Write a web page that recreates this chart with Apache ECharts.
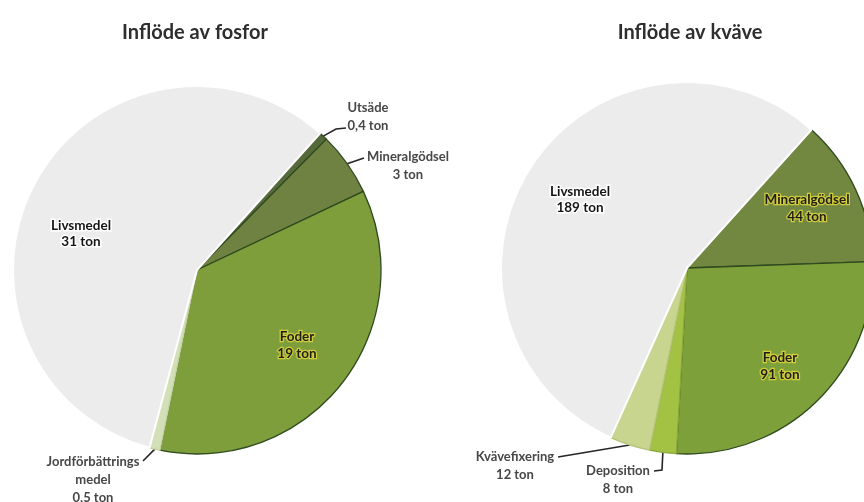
<!DOCTYPE html>
<html>
<head>
<meta charset="utf-8">
<script src="https://cdn.jsdelivr.net/npm/echarts@6/dist/echarts.min.js"></script>
<style>
  html, body { margin: 0; padding: 0; background: #ffffff; }
  #chart { width: 864px; height: 502px; }
</style>
</head>
<body>
<div id="chart"></div>
<script>
// Inflöde av fosfor (ton), clockwise from the upper right edge
const fosforCategories = ['Utsäde', 'Mineralgödsel', 'Foder', 'Jordförbättringsmedel', 'Livsmedel'];
const fosforValues = [0.4, 3, 19, 0.5, 31];

// Inflöde av kväve (ton), clockwise from the upper right edge
const kvaveCategories = ['Mineralgödsel', 'Foder', 'Deposition', 'Kvävefixering', 'Livsmedel'];
const kvaveValues = [44, 91, 8, 12, 189];

const chartTitles = ['Inflöde av fosfor', 'Inflöde av kväve'];

const FONT = 'Lato, "Open Sans", sans-serif';

// Appearance of each slice and where its label sits (offsets from the pie centre)
const fosforStyle = {
  'Utsäde':               { color: '#56693a', border: '#2f4a20', kind: 'out', pos: [171, -171], line: [[139, -141], [149, -142]] },
  'Mineralgödsel':        { color: '#6f8242', border: '#2f4a20', kind: 'out', pos: [211, -122], line: [[167, -112]] },
  'Foder':                { color: '#7d9e3b', border: '#2f4a20', kind: 'yellow', pos: [100, 75] },
  'Jordförbättringsmedel':{ color: '#d3dfb6', border: '#c3d2a0', kind: 'out', pos: [-104, 183], line: [[-54, 191]],
                            text: 'Jordförbättrings\nmedel' },
  'Livsmedel':            { color: '#ececec', border: '#ffffff', kind: 'white', pos: [-116, -36] }
};
const kvaveStyle = {
  'Mineralgödsel':  { color: '#728740', border: '#2f4a20', kind: 'yellow', pos: [120, -60] },
  'Foder':          { color: '#7ea03a', border: '#2f4a20', kind: 'yellow', pos: [93, 98] },
  'Deposition':     { color: '#a3c244', border: '#8aa83a', kind: 'out', pos: [-69, 194], line: [[-25, 202], [-33, 203]] },
  'Kvävefixering':  { color: '#c8d58e', border: '#b5c47a', kind: 'out', pos: [-172, 180], line: [[-129, 189]] },
  'Livsmedel':      { color: '#ececec', border: '#ffffff', kind: 'white', pos: [-107, -68] }
};

function fmtTon(v) {
  return String(v).replace('.', ',') + ' ton';
}

function buildData(categories, values, styles) {
  return categories.map(function (name, i) {
    const s = styles[name];
    const item = {
      name: name,
      value: values[i],
      itemStyle: { color: s.color, borderColor: s.border, borderWidth: s.border === '#ffffff' ? 2 : 1.3 }
    };
    const labelName = s.text || name;
    item.label = { formatter: labelName + '\n' + fmtTon(values[i]) };
    if (s.kind === 'white') {
      Object.assign(item.label, {
        position: 'inside', fontWeight: 'bold', fontSize: 13.5, color: '#151515',
        textBorderColor: '#ffffff', textBorderWidth: 3, lineHeight: 16
      });
      item.labelLine = { show: false };
    } else if (s.kind === 'yellow') {
      Object.assign(item.label, {
        position: 'inside', fontWeight: 'bold', fontSize: 13.5, color: '#1e1e14',
        textBorderColor: 'rgba(222,214,64,0.85)', textBorderWidth: 2.5, lineHeight: 17
      });
      item.labelLine = { show: false };
    } else {
      Object.assign(item.label, { position: 'outside' });
      item.labelLine = { show: true };
    }
    return item;
  });
}

function makeLayout(categories, styles, center) {
  return function (params) {
    const s = styles[categories[params.dataIndex]];
    const out = {
      x: center[0] + s.pos[0],
      y: center[1] + s.pos[1],
      align: 'center',
      verticalAlign: s.kind === 'out' ? 'top' : 'middle'
    };
    if (s.line && params.labelLinePoints) {
      const pts = [params.labelLinePoints[0].slice()];
      s.line.forEach(function (p) { pts.push([center[0] + p[0], center[1] + p[1]]); });
      out.labelLinePoints = pts;
    }
    return out;
  };
}

const fosforCenter = [197, 270];
const kvaveCenter = [687, 268];

function pieSeries(categories, values, styles, center, radius) {
  return {
    type: 'pie',
    center: center,
    radius: radius,
    startAngle: 48,
    clockwise: true,
    avoidLabelOverlap: false,
    silent: true,
    animation: false,
    label: {
      show: true,
      fontFamily: FONT,
      fontSize: 13,
      fontWeight: 'bold',
      color: '#474747',
      lineHeight: 18
    },
    labelLine: {
      show: true,
      length: 6,
      length2: 6,
      lineStyle: { color: '#262626', width: 1.6 }
    },
    labelLayout: makeLayout(categories, styles, center),
    data: buildData(categories, values, styles)
  };
}

const chart = echarts.init(document.getElementById('chart'), null, { renderer: 'canvas' });
chart.setOption({
  backgroundColor: '#ffffff',
  title: [
    { text: chartTitles[0], left: 190, top: 18, textAlign: 'center',
      textStyle: { fontFamily: FONT, fontSize: 20, fontWeight: 'bold', color: '#2e2e2e' } },
    { text: chartTitles[1], left: 685, top: 18, textAlign: 'center',
      textStyle: { fontFamily: FONT, fontSize: 20, fontWeight: 'bold', color: '#2e2e2e' } }
  ],
  series: [
    pieSeries(fosforCategories, fosforValues, fosforStyle, fosforCenter, 184),
    pieSeries(kvaveCategories, kvaveValues, kvaveStyle, kvaveCenter, 186)
  ]
});
</script>
</body>
</html>
